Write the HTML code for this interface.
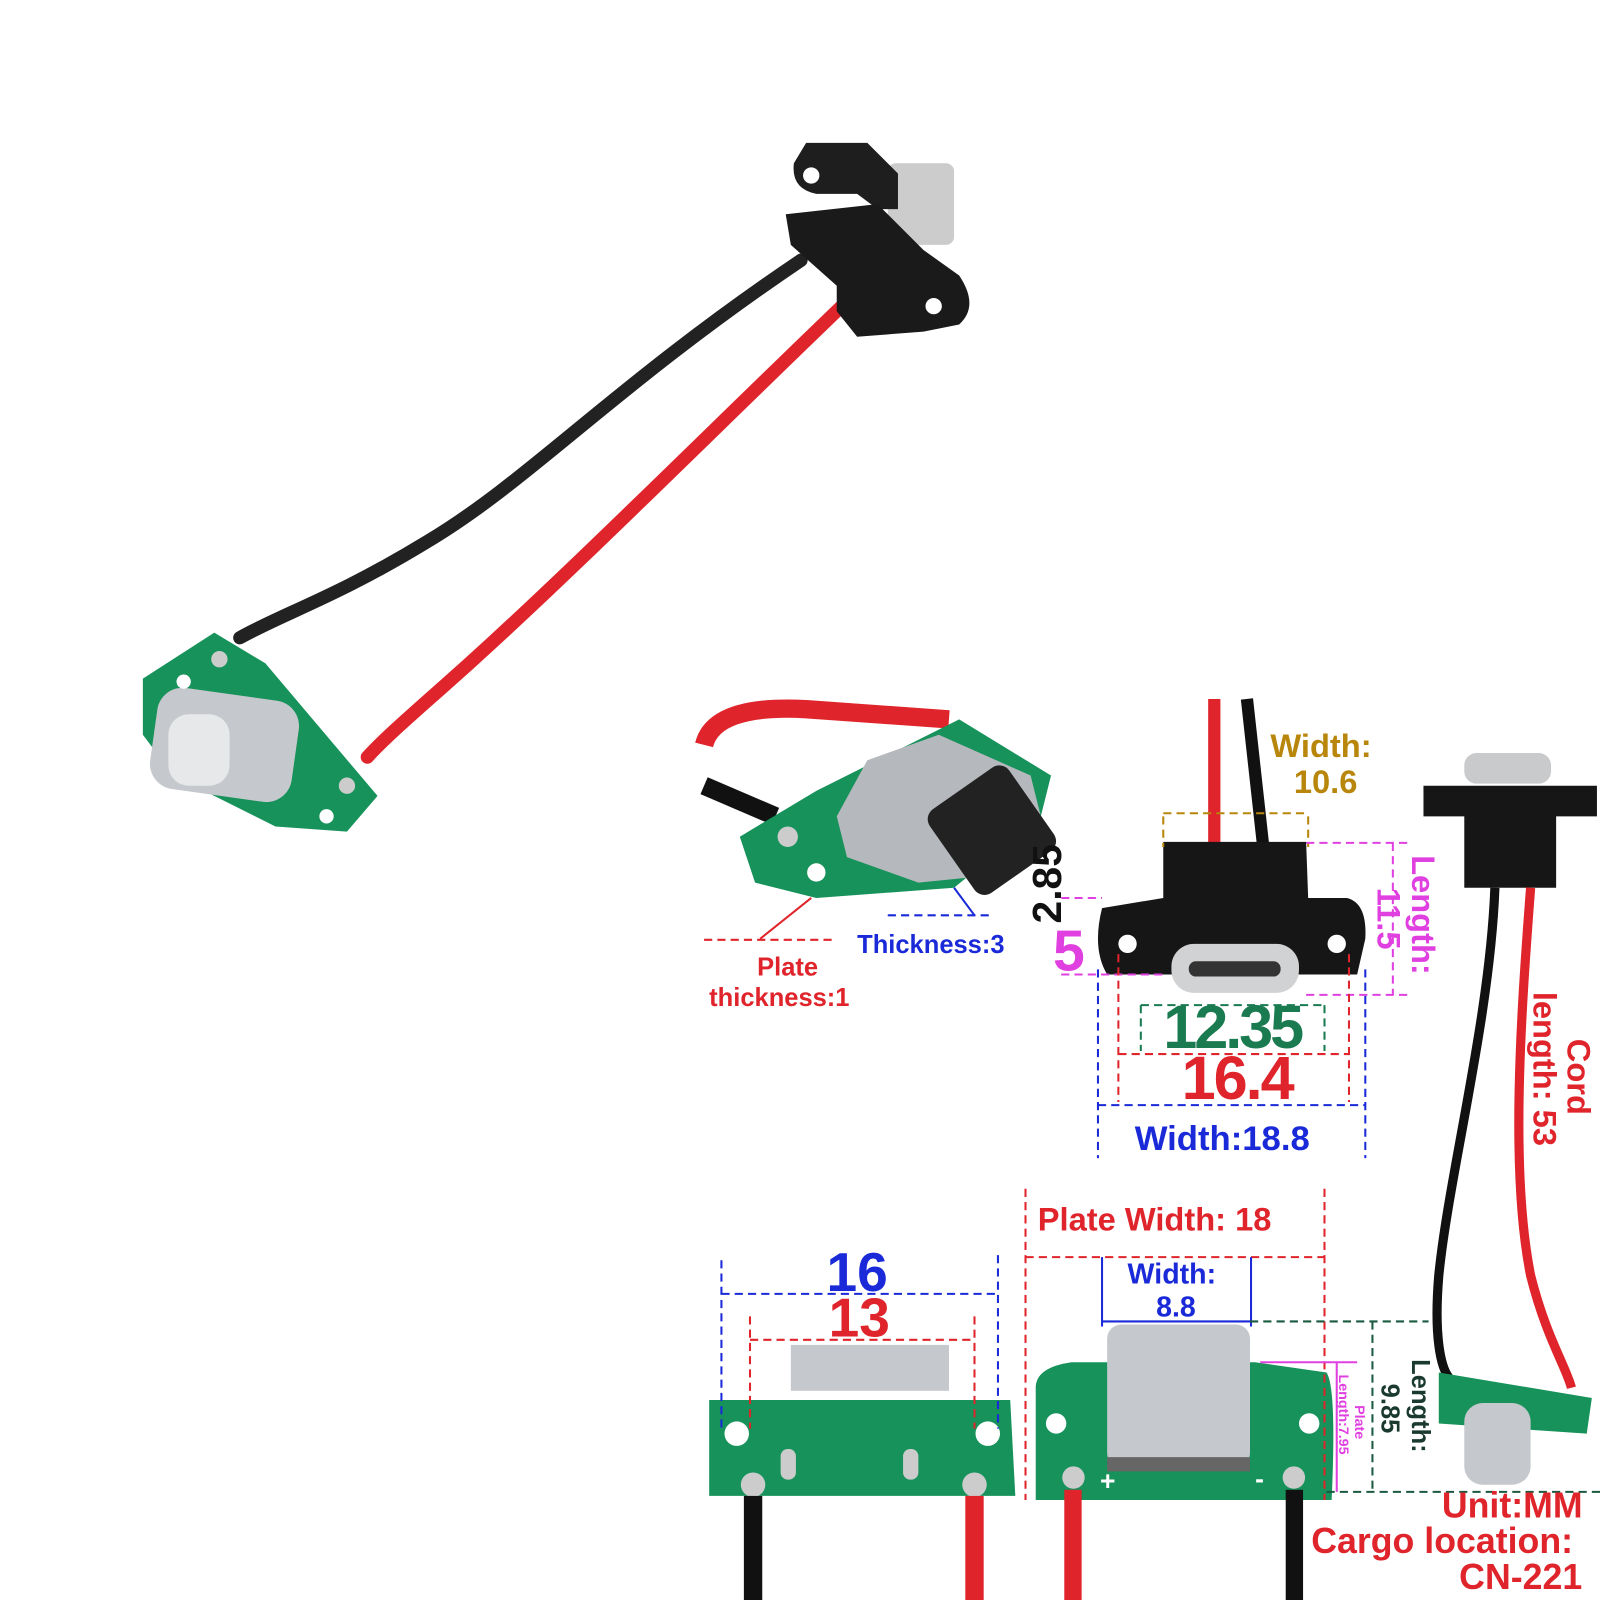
<!DOCTYPE html>
<html><head><meta charset="utf-8"><style>
html,body{margin:0;padding:0;background:#fff;width:1600px;height:1600px;overflow:hidden}
svg{display:block}
text{font-family:"Liberation Sans",Arial,sans-serif;font-weight:bold}
</style></head><body>
<svg width="1600" height="1600" viewBox="0 0 1568 1568" xmlns="http://www.w3.org/2000/svg">
<!-- TOP PRODUCT -->
<path d="M785 255 C600 380 520 470 420 530 C330 585 280 600 235 625" stroke="#222" stroke-width="13" fill="none" stroke-linecap="round"/>
<path d="M825 300 C700 420 560 560 460 650 C410 695 380 720 360 742" stroke="#e0242b" stroke-width="13" fill="none" stroke-linecap="round"/>
<g>
<rect x="870" y="160" width="65" height="80" rx="8" fill="#ccc"/>
<path d="M790 140 L850 140 L880 170 L880 205 L860 205 L840 190 L800 190 Q775 185 778 160 Z" fill="#1e1e1e"/>
<path d="M770 210 L860 200 L905 245 L940 270 Q960 300 940 318 L905 325 L840 330 L820 305 L820 280 L775 240 Z" fill="#1a1a1a"/>
<circle cx="795" cy="172" r="8" fill="#fff"/><circle cx="915" cy="300" r="8" fill="#fff"/>
</g>
<path d="M140 665 L210 620 L260 650 L370 780 L340 815 L270 810 L170 760 L140 720 Z" fill="#16925a"/>
<rect x="150" y="680" width="140" height="100" rx="25" fill="#c5c8cc" transform="rotate(8 220 730)"/>
<rect x="165" y="700" width="60" height="70" rx="20" fill="#e6e8ea"/>
<circle cx="215" cy="646" r="8" fill="#ccc"/><circle cx="340" cy="770" r="8" fill="#ccc"/>
<circle cx="180" cy="668" r="7" fill="#fff"/><circle cx="320" cy="800" r="7" fill="#fff"/>

<!-- Left-mid photo (angled board) -->
<path d="M690 730 Q700 690 790 695 L930 705" stroke="#e0242b" stroke-width="18" fill="none"/>
<path d="M690 770 L760 800" stroke="#111" stroke-width="18"/>
<path d="M725 820 L800 775 L940 705 L1030 760 L1020 800 L935 870 L800 880 L740 865 Z" fill="#16925a"/>
<path d="M820 800 L850 745 L920 720 L1010 760 L1020 800 L950 860 L900 865 L830 840 Z" fill="#b5b8bc"/>
<rect x="925" y="765" width="95" height="100" rx="12" fill="#222" transform="rotate(-35 970 815)"/>
<circle cx="772" cy="820" r="10" fill="#ccc"/><circle cx="800" cy="855" r="9" fill="#fff"/>
<line x1="690" y1="921" x2="815" y2="921" stroke="#e0242b" stroke-width="2" stroke-dasharray="8,5"/>
<line x1="745" y1="920" x2="795" y2="880" stroke="#e0242b" stroke-width="2"/>
<line x1="870" y1="897" x2="970" y2="897" stroke="#1a2ad8" stroke-width="2" stroke-dasharray="8,5"/>
<line x1="935" y1="870" x2="955" y2="897" stroke="#1a2ad8" stroke-width="2"/>
<text x="840" y="934" font-size="25" fill="#1a2ad8">Thickness:3</text>
<text x="742" y="956" font-size="25" fill="#e0242b">Plate</text>
<text x="695" y="986" font-size="25" fill="#e0242b">thickness:1</text>

<!-- Center front connector -->
<line x1="1190" y1="685" x2="1190" y2="830" stroke="#e0242b" stroke-width="12"/>
<line x1="1222" y1="685" x2="1238" y2="830" stroke="#111" stroke-width="12"/>
<path d="M1140 825 L1280 825 L1282 880 L1320 880 Q1340 885 1338 920 L1330 955 L1085 955 Q1070 930 1080 890 L1140 880 Z" fill="#161616"/>
<circle cx="1105" cy="925" r="9" fill="#fff"/><circle cx="1310" cy="925" r="9" fill="#fff"/>
<rect x="1148" y="925" width="125" height="48" rx="22" fill="#d0d2d4"/>
<rect x="1165" y="942" width="90" height="15" rx="7" fill="#333"/>
<g stroke-width="2" stroke-dasharray="8,5" fill="none">
<path d="M1140 800 L1140 830 M1282 800 L1282 830 M1140 797 L1282 797" stroke="#b8860b"/>
<path d="M1280 826 L1380 826 M1280 975 L1380 975 M1365 826 L1365 975" stroke="#e040e0"/>
<path d="M1040 955 L1140 955 M1040 880 L1080 880" stroke="#e040e0"/>
<path d="M1118 985 L1118 1030 M1298 985 L1298 1030 M1118 985 L1298 985" stroke="#1a7a50"/>
<path d="M1096 935 L1096 1080 M1322 935 L1322 1080 M1096 1033 L1322 1033" stroke="#e0242b"/>
<path d="M1076 950 L1076 1135 M1338 950 L1338 1135 M1076 1083 L1338 1083" stroke="#1a2ad8"/>
</g>
<text x="1245" y="742" font-size="32" fill="#b8860b">Width:</text>
<text x="1268" y="777" font-size="32" fill="#b8860b">10.6</text>
<text transform="translate(1040 905) rotate(-90)" font-size="40" fill="#111">2.85</text>
<text x="1032" y="951" font-size="56" fill="#e040e0">5</text>
<text transform="translate(1384 838) rotate(90)" font-size="32" fill="#e040e0">Length:</text>
<text transform="translate(1350 870) rotate(90)" font-size="32" fill="#e040e0">11.5</text>
<text x="1140" y="1027" font-size="60" fill="#1a7a50" style="letter-spacing:-3px">12.35</text>
<text x="1158" y="1077" font-size="60" fill="#e0242b" style="letter-spacing:-2px">16.4</text>
<text x="1112" y="1127" font-size="34" fill="#1a2ad8">Width:18.8</text>

<!-- Right vertical product -->
<rect x="1435" y="738" width="85" height="30" rx="12" fill="#c8cacc"/>
<path d="M1395 770 L1565 770 L1565 800 L1525 800 L1525 870 L1435 870 L1435 800 L1395 800 Z" fill="#161616"/>
<path d="M1465 870 C1460 1000 1420 1150 1410 1250 C1405 1310 1412 1340 1420 1350" stroke="#111" stroke-width="9" fill="none"/>
<path d="M1500 870 C1490 1000 1480 1150 1500 1250 C1515 1310 1535 1340 1540 1360" stroke="#e0242b" stroke-width="9" fill="none"/>
<path d="M1410 1345 L1560 1370 L1555 1405 L1410 1395 Z" fill="#16925a"/>
<rect x="1435" y="1375" width="65" height="80" rx="18" fill="#c5c8cc"/>
<text transform="translate(1536 1018) rotate(90)" font-size="32" fill="#e0242b">Cord</text>
<text transform="translate(1503 972) rotate(90)" font-size="32" fill="#e0242b">length: 53</text>

<!-- Bottom left board -->
<rect x="775" y="1318" width="155" height="45" fill="#c5c8cc"/>
<path d="M695 1372 L990 1372 L995 1466 L695 1466 Z" fill="#16925a"/>
<circle cx="722" cy="1405" r="12" fill="#fff"/><circle cx="968" cy="1405" r="12" fill="#fff"/>
<circle cx="738" cy="1455" r="12" fill="#ccc"/><circle cx="955" cy="1455" r="12" fill="#ccc"/>
<rect x="765" y="1420" width="15" height="30" rx="7" fill="#ccc"/><rect x="885" y="1420" width="15" height="30" rx="7" fill="#ccc"/>
<rect x="729" y="1466" width="18" height="134" fill="#111"/><rect x="946" y="1466" width="18" height="134" fill="#e0242b"/>
<g stroke-width="2" stroke-dasharray="8,5" fill="none">
<path d="M707 1235 L707 1400 M978 1230 L978 1400 M707 1268 L978 1268" stroke="#1a2ad8"/>
<path d="M735 1290 L735 1400 M955 1290 L955 1400 M735 1313 L955 1313" stroke="#e0242b"/>
</g>
<text x="810" y="1265" font-size="54" fill="#1a2ad8">16</text>
<text x="812" y="1310" font-size="54" fill="#e0242b">13</text>

<!-- Bottom center board -->
<path d="M1015 1360 Q1015 1340 1050 1335 L1230 1335 L1300 1345 Q1310 1360 1305 1470 L1015 1470 Z" fill="#16925a"/>
<rect x="1085" y="1298" width="140" height="140" rx="14" fill="#c5c8cc"/>
<rect x="1085" y="1428" width="140" height="14" fill="#666"/>
<circle cx="1035" cy="1395" r="10" fill="#fff"/><circle cx="1283" cy="1395" r="10" fill="#fff"/>
<circle cx="1052" cy="1448" r="11" fill="#ccc"/><circle cx="1268" cy="1448" r="11" fill="#ccc"/>
<rect x="1043" y="1460" width="17" height="140" fill="#e0242b"/><rect x="1260" y="1460" width="17" height="140" fill="#111"/>
<text x="1078" y="1460" font-size="26" fill="#fff">+</text><text x="1230" y="1458" font-size="26" fill="#fff">-</text>
<g stroke-width="2" fill="none">
<path d="M1005 1165 L1005 1470 M1298 1165 L1298 1470 M1005 1232 L1298 1232" stroke="#e0242b" stroke-dasharray="8,5"/>
<path d="M1080 1232 L1080 1300 M1226 1232 L1226 1300 M1080 1295 L1226 1295" stroke="#1a2ad8"/>
<path d="M1225 1295 L1400 1295 M1300 1462 L1600 1462 M1345 1295 L1345 1462" stroke="#1a5a40" stroke-dasharray="8,5"/>
<path d="M1235 1335 L1330 1335 M1310 1335 L1310 1462" stroke="#e040e0"/>
</g>
<text x="1017" y="1206" font-size="32" fill="#e0242b">Plate Width: 18</text>
<text x="1105" y="1258" font-size="28" fill="#1a2ad8">Width:</text>
<text x="1133" y="1290" font-size="28" fill="#1a2ad8">8.8</text>
<text transform="translate(1384 1332) rotate(90)" font-size="25" fill="#1a3a30">Length:</text>
<text transform="translate(1354 1356) rotate(90)" font-size="25" fill="#1a3a30">9.85</text>
<text transform="translate(1328 1377) rotate(90)" font-size="14" fill="#e040e0">Plate</text>
<text transform="translate(1312 1347) rotate(90)" font-size="14" fill="#e040e0">Length:7.95</text>

<text x="1413" y="1487" font-size="35" fill="#e0242b">Unit:MM</text>
<text x="1285" y="1522" font-size="35" fill="#e0242b">Cargo location:</text>
<text x="1430" y="1557" font-size="35" fill="#e0242b">CN-221</text>
</svg>
</body></html>
